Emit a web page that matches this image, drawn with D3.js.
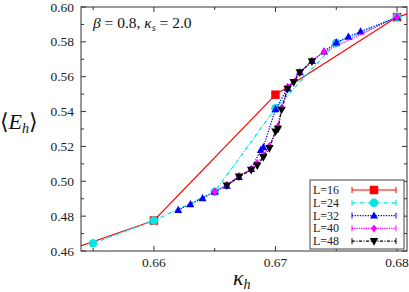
<!DOCTYPE html>
<html><head><meta charset="utf-8">
<script src="https://cdn.jsdelivr.net/npm/d3@7"></script>
<style>
body{margin:0;background:#fff;}
</style></head>
<body><svg id="c" width="409" height="292" font-family="'Liberation Serif', 'DejaVu Serif', serif"></svg>
<script>
// ---- data ----
const xTicks = [0.66, 0.67, 0.68];
const xMinor = [0.655, 0.665, 0.675];
const yTicks = [0.46, 0.48, 0.50, 0.52, 0.54, 0.56, 0.58, 0.60];
const yMinor = [0.47, 0.49, 0.51, 0.53, 0.55, 0.57, 0.59];
const seriesNames = ["L=16", "L=24", "L=32", "L=40", "L=48"];

const k16 = [0.65, 0.66, 0.67, 0.68, 0.69];
const e16 = [0.4532, 0.4775, 0.5497, 0.5942, 0.615];

const k24 = [0.655, 0.66, 0.665, 0.67, 0.675, 0.68];
const e24 = [0.4644, 0.4775, 0.4940, 0.5419, 0.5794, 0.5942];

const k32 = [0.662, 0.663, 0.664, 0.665, 0.666, 0.667, 0.668, 0.6688, 0.669, 0.670, 0.671, 0.672, 0.673, 0.674, 0.675, 0.676, 0.677, 0.680];
const e32 = [0.4835, 0.4868, 0.4903, 0.4940, 0.4975, 0.5025, 0.5070, 0.5180, 0.5195, 0.5413, 0.5534, 0.5625, 0.5690, 0.5745, 0.5796, 0.5830, 0.5859, 0.5942];

const k40 = [0.665, 0.666, 0.667, 0.668, 0.6685, 0.669, 0.6695, 0.6702, 0.6705, 0.671, 0.672, 0.673, 0.674, 0.680];
const e40 = [0.4940, 0.4980, 0.5031, 0.5070, 0.5103, 0.5150, 0.5203, 0.5314, 0.5420, 0.5543, 0.5625, 0.5690, 0.5744, 0.5942];

const k48 = [0.666, 0.667, 0.668, 0.6685, 0.669, 0.6695, 0.6700, 0.6702, 0.6705, 0.671, 0.6715, 0.672, 0.673];
const e48 = [0.4975, 0.5027, 0.5065, 0.5090, 0.5138, 0.5190, 0.5285, 0.5300, 0.5410, 0.5530, 0.5568, 0.5624, 0.5687];

// ---- layout ----
const L = 81, R = 407, T = 7, B = 251;
const svg = d3.select("#c");
const x = d3.scaleLinear().domain([0.654, 0.68082]).range([L, R]);
const y = d3.scaleLinear().domain([0.46, 0.60]).range([B, T]);

svg.append("defs").append("clipPath").attr("id", "clip")
  .append("rect").attr("x", L).attr("y", T).attr("width", R - L).attr("height", B - T);

const styles = [
  {color: "#ff0000", dash: null, marker: "square", size: 8.5, k: k16, e: e16},
  {color: "#00e5e5", dash: "4,1.5,1,1.5", marker: "circle", size: 8.5, k: k24, e: e24},
  {color: "#0000ff", dash: "1.3,1.3", marker: "triangle", size: 8, k: k32, e: e32},
  {color: "#ff00ff", dash: "1.3,1", marker: "diamond", size: 8, k: k40, e: e40},
  {color: "#000000", dash: "3,1.5,1,1.5", marker: "tridown", size: 8.5, k: k48, e: e48}
];

function markerPath(type, s) {
  const h = s / 2;
  if (type === "square") return `M${-h},${-h}H${h}V${h}H${-h}Z`;
  if (type === "triangle") return `M0,${-h*1.05}L${h},${h*0.75}L${-h},${h*0.75}Z`;
  if (type === "tridown") return `M0,${h*1.05}L${h},${-h*0.75}L${-h},${-h*0.75}Z`;
  if (type === "diamond") return `M0,${-h}L${h*0.8},0L0,${h}L${-h*0.8},0Z`;
  return null;
}
function drawMarker(g, st, cx, cy) {
  if (st.marker === "circle") {
    g.append("circle").attr("cx", cx).attr("cy", cy).attr("r", st.size / 2).attr("fill", st.color);
  } else {
    g.append("path").attr("d", markerPath(st.marker, st.size))
      .attr("transform", `translate(${cx},${cy})`).attr("fill", st.color);
  }
}

const plot = svg.append("g").attr("clip-path", "url(#clip)");
styles.forEach(st => {
  const pts = st.k.map((k, i) => [k, st.e[i]]);
  const line = d3.line().x(d => x(d[0])).y(d => y(d[1]));
  plot.append("path").datum(pts).attr("d", line).attr("fill", "none")
    .attr("stroke", st.color).attr("stroke-width", 1.2)
    .attr("stroke-dasharray", st.dash);
  pts.forEach(p => drawMarker(plot, st, x(p[0]), y(p[1])));
});

// ---- axes frame ----
const ax = svg.append("g").attr("stroke", "#333").attr("stroke-width", 1);
ax.append("rect").attr("x", L).attr("y", T).attr("width", R - L).attr("height", B - T)
  .attr("fill", "none");
const MAJ = 5, MIN = 3;
xTicks.forEach(v => {
  ax.append("line").attr("x1", x(v)).attr("x2", x(v)).attr("y1", B).attr("y2", B - MAJ);
  ax.append("line").attr("x1", x(v)).attr("x2", x(v)).attr("y1", T).attr("y2", T + MAJ);
});
xMinor.forEach(v => {
  ax.append("line").attr("x1", x(v)).attr("x2", x(v)).attr("y1", B).attr("y2", B - MIN);
  ax.append("line").attr("x1", x(v)).attr("x2", x(v)).attr("y1", T).attr("y2", T + MIN);
});
yTicks.forEach(v => {
  ax.append("line").attr("x1", L).attr("x2", L + MAJ).attr("y1", y(v)).attr("y2", y(v));
  ax.append("line").attr("x1", R).attr("x2", R - MAJ).attr("y1", y(v)).attr("y2", y(v));
});
yMinor.forEach(v => {
  ax.append("line").attr("x1", L).attr("x2", L + MIN).attr("y1", y(v)).attr("y2", y(v));
  ax.append("line").attr("x1", R).attr("x2", R - MIN).attr("y1", y(v)).attr("y2", y(v));
});

const fmt = d3.format(".2f");
const labs = svg.append("g").attr("font-size", 13.5).attr("fill", "#222");
xTicks.forEach(v => labs.append("text").attr("x", x(v)).attr("y", B + 16)
  .attr("text-anchor", "middle").text(fmt(v)));
yTicks.forEach(v => labs.append("text").attr("x", L - 7).attr("y", y(v) + 4.5)
  .attr("text-anchor", "end").text(fmt(v)));

// axis titles
const yl = svg.append("text").attr("x", 0).attr("y", 129).attr("font-size", 22).attr("fill", "#111");
yl.append("tspan").text("⟨");
yl.append("tspan").attr("font-style", "italic").text("E");
yl.append("tspan").attr("font-style", "italic").attr("font-size", 14).attr("dy", 4).text("h");
yl.append("tspan").attr("dy", -4).text("⟩");

const xl = svg.append("text").attr("x", 233).attr("y", 285).attr("font-size", 22).attr("fill", "#111");
xl.append("tspan").attr("font-style", "italic").text("κ");
xl.append("tspan").attr("font-style", "italic").attr("font-size", 14).attr("dy", 4).text("h");

// annotation
const an = svg.append("text").attr("x", 93).attr("y", 28).attr("font-size", 15.5).attr("fill", "#111");
an.append("tspan").attr("font-style", "italic").text("β");
an.append("tspan").text(" = 0.8, ");
an.append("tspan").attr("font-style", "italic").text("κ");
an.append("tspan").attr("font-style", "italic").attr("font-size", 10).attr("dy", 3).text("s");
an.append("tspan").attr("dy", -3).text(" = 2.0");

// legend
const lg = svg.append("g");
const LX = 310, LY = 180, LW = 94, LH = 69;
lg.append("rect").attr("x", LX).attr("y", LY).attr("width", LW).attr("height", LH)
  .attr("fill", "#fff").attr("stroke", "#444").attr("stroke-width", 1);
seriesNames.forEach((nm, i) => {
  const st = styles[i];
  const cy = LY + 10 + i * 12.8;
  lg.append("text").attr("x", LX + 3).attr("y", cy + 4).attr("font-size", 12)
    .attr("fill", "#222").text(nm);
  const x1 = LX + 42, x2 = LX + 86;
  lg.append("line").attr("x1", x1).attr("x2", x2).attr("y1", cy).attr("y2", cy)
    .attr("stroke", st.color).attr("stroke-width", 1.2).attr("stroke-dasharray", st.dash);
  [x1, x2].forEach(xx => lg.append("line").attr("x1", xx).attr("x2", xx)
    .attr("y1", cy - 3).attr("y2", cy + 3).attr("stroke", st.color).attr("stroke-width", 1));
  drawMarker(lg, st, (x1 + x2) / 2, cy);
});
</script></body></html>
